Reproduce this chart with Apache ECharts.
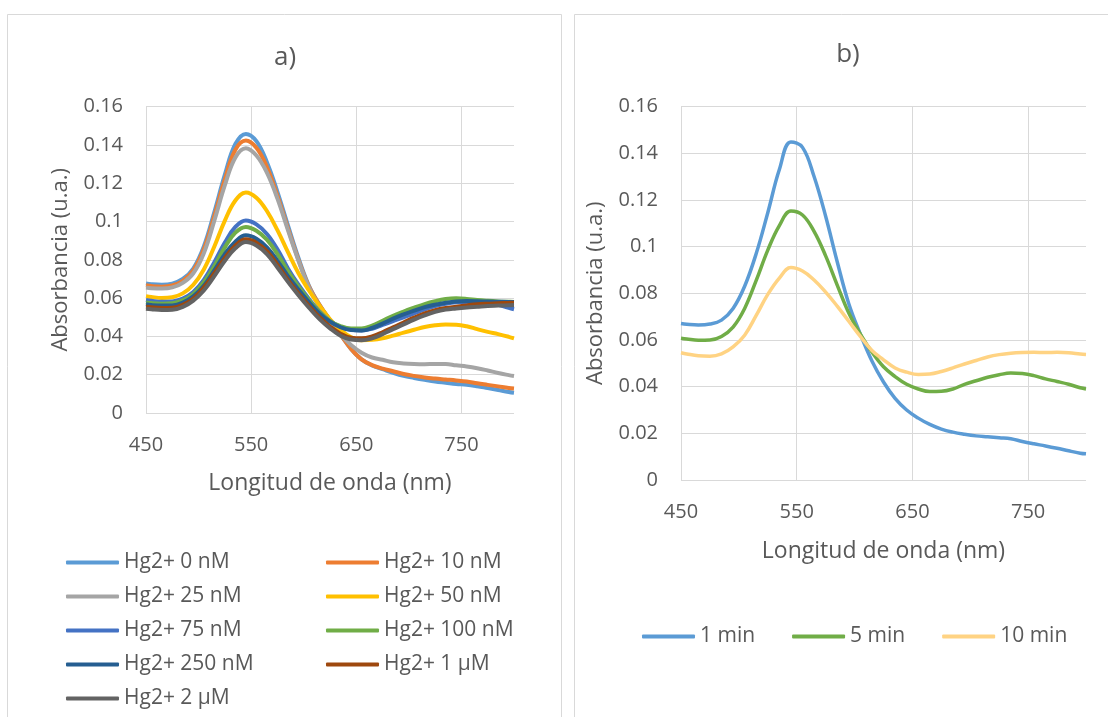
<!DOCTYPE html>
<html><head><meta charset="utf-8">
<script src="https://cdn.jsdelivr.net/npm/echarts@6/dist/echarts.min.js"></script>
<style>html,body{margin:0;padding:0;background:#fff}#c{width:1108px;height:717px}</style>
</head><body><div id="c"></div>
<script>
// wavelengths (nm)
const wavelengths = [450,455,465,475,485,495,505,515,525,535,545,555,565,575,585,595,605,615,625,635,645,655,665,675,685,695,705,715,725,735,745,755,765,775,785,795,800];
const xTicks = [450,550,650,750];
const yTicks = [0,0.02,0.04,0.06,0.08,0.1,0.12,0.14,0.16];

// Panel a) series
const namesA = ['Hg2+ 0 nM','Hg2+ 10 nM','Hg2+ 25 nM','Hg2+ 50 nM','Hg2+ 75 nM','Hg2+ 100 nM','Hg2+ 250 nM','Hg2+ 1 µM','Hg2+ 2 µM'];
const hg0   = [0.0677,0.0673,0.067,0.0676,0.070,0.0755,0.087,0.105,0.1245,0.1405,0.1458,0.142,0.131,0.1155,0.098,0.081,0.0665,0.0565,0.0485,0.041,0.0335,0.028,0.0248,0.0229,0.021,0.0194,0.0183,0.0173,0.0164,0.0158,0.0152,0.0148,0.014,0.013,0.012,0.011,0.0106];
const hg10  = [0.0667,0.0663,0.066,0.0666,0.069,0.0745,0.0855,0.103,0.122,0.1375,0.1423,0.1385,0.1285,0.1135,0.0965,0.080,0.066,0.0565,0.0485,0.041,0.0335,0.028,0.025,0.0232,0.0218,0.0204,0.0194,0.0186,0.018,0.0175,0.017,0.0164,0.0155,0.0147,0.0139,0.0131,0.0128];
const hg25  = [0.0655,0.0652,0.065,0.0656,0.068,0.073,0.0835,0.1005,0.119,0.1335,0.1383,0.1345,0.1255,0.112,0.0955,0.0795,0.0655,0.0555,0.0475,0.041,0.0355,0.0315,0.029,0.0278,0.0265,0.0259,0.0256,0.0255,0.0256,0.0256,0.0249,0.0243,0.0234,0.0222,0.0209,0.0198,0.0193];
const hg50  = [0.061,0.0606,0.0601,0.0605,0.0625,0.067,0.075,0.087,0.1005,0.111,0.1152,0.1125,0.1055,0.0955,0.084,0.073,0.064,0.056,0.049,0.0435,0.0395,0.038,0.0382,0.039,0.0404,0.042,0.0435,0.0449,0.0458,0.0462,0.0461,0.0453,0.0438,0.0424,0.0412,0.0398,0.039];
const hg75  = [0.059,0.0586,0.0581,0.0583,0.0598,0.0632,0.0695,0.0788,0.089,0.0972,0.1005,0.0985,0.0935,0.0855,0.0755,0.067,0.0595,0.053,0.048,0.045,0.0435,0.0431,0.044,0.046,0.048,0.050,0.0521,0.0541,0.0558,0.057,0.0578,0.058,0.0578,0.0573,0.0565,0.0549,0.0542];
const hg100 = [0.0578,0.0574,0.0571,0.0573,0.0588,0.0622,0.0683,0.0768,0.0865,0.0942,0.0972,0.0952,0.0905,0.083,0.074,0.066,0.059,0.0527,0.048,0.0454,0.0442,0.0442,0.0457,0.0482,0.0508,0.053,0.055,0.0569,0.0584,0.0595,0.0599,0.0596,0.059,0.0586,0.0583,0.0581,0.058];
const hg250 = [0.0568,0.0564,0.0561,0.0562,0.0577,0.061,0.0665,0.0745,0.083,0.0895,0.0928,0.091,0.0865,0.0795,0.0715,0.0645,0.058,0.052,0.0477,0.0448,0.0433,0.0431,0.0444,0.0467,0.0493,0.0515,0.0535,0.0553,0.0566,0.0576,0.0583,0.0585,0.0584,0.0582,0.0581,0.058,0.058];
const hg1u  = [0.0555,0.0552,0.0549,0.055,0.0565,0.0598,0.0655,0.073,0.081,0.0875,0.0907,0.089,0.0845,0.0775,0.0695,0.0625,0.056,0.050,0.0452,0.0414,0.0393,0.039,0.040,0.0422,0.0448,0.0473,0.0498,0.052,0.0537,0.0548,0.0555,0.0562,0.0568,0.0571,0.0573,0.0575,0.0576];
const hg2u  = [0.0545,0.0542,0.0538,0.0539,0.0554,0.0587,0.064,0.0715,0.0795,0.086,0.0893,0.0875,0.083,0.076,0.0685,0.0615,0.055,0.049,0.0442,0.0404,0.0384,0.038,0.039,0.0412,0.0438,0.0463,0.0488,0.051,0.0528,0.054,0.0546,0.0551,0.0555,0.0559,0.0561,0.0563,0.0564];

// Panel b) series
const namesB = ['1 min','5 min','10 min'];
const min1  = [0.067,0.0667,0.0664,0.0668,0.0685,0.0735,0.083,0.097,0.1145,0.133,0.1448,0.1425,0.130,0.113,0.0935,0.0755,0.0625,0.051,0.042,0.035,0.030,0.0265,0.0238,0.0218,0.0205,0.0196,0.0189,0.0185,0.0181,0.0177,0.0165,0.0155,0.0146,0.0136,0.0125,0.0115,0.0112];
const min5  = [0.0607,0.0604,0.0599,0.060,0.0615,0.0655,0.0735,0.0855,0.0985,0.109,0.1152,0.1135,0.1065,0.096,0.0835,0.0715,0.0625,0.0548,0.0485,0.0443,0.041,0.039,0.0379,0.038,0.039,0.041,0.0425,0.044,0.0451,0.0458,0.0456,0.0447,0.0433,0.0422,0.041,0.0395,0.039];
const min10 = [0.0545,0.054,0.0532,0.053,0.054,0.057,0.062,0.0705,0.0795,0.0865,0.091,0.0895,0.0857,0.0805,0.0745,0.068,0.0615,0.0555,0.0515,0.048,0.0462,0.0452,0.0454,0.0465,0.048,0.0497,0.0512,0.0527,0.0537,0.0543,0.0546,0.0547,0.0546,0.0547,0.0545,0.054,0.0538];

const colorsA = ['#5B9BD5','#ED7D31','#A5A5A5','#FFC000','#4472C4','#70AD47','#255E91','#9E480E','#636363'];
const colorsB = ['#5B9BD5','#70AD47','#FFD383'];
const dataA = [hg0,hg10,hg25,hg50,hg75,hg100,hg250,hg1u,hg2u];
const dataB = [min1,min5,min10];

const FONT = 'Open Sans';
const TXT = '#595959';
const GRID = '#d9d9d9';

function pairs(arr){ return wavelengths.map((w,i)=>[w,arr[i]]); }
function fmtY(v){ return String(parseFloat(v.toFixed(2))); }

function xAxis(gi, gap){
  return {gridIndex:gi,type:'value',min:450,max:800,interval:100,
    axisLine:{show:false},axisTick:{show:false},
    splitLine:{show:true,showMaxLine:false,lineStyle:{color:GRID,width:1}},
    axisLabel:{showMaxLabel:false,margin:22,fontSize:20,color:TXT,fontFamily:FONT,
      formatter:v=> xTicks.indexOf(v)>=0 ? String(v) : ''},
    name:'Longitud de onda (nm)',nameLocation:'middle',nameGap:gap,
    nameTextStyle:{fontSize:23,color:TXT,fontFamily:FONT}};
}
function yAxis(gi, gap){
  return {gridIndex:gi,type:'value',min:0,max:0.16,interval:0.02,
    axisLine:{show:false},axisTick:{show:false},
    splitLine:{show:true,lineStyle:{color:GRID,width:1}},
    axisLabel:{margin:23,fontSize:20,color:TXT,fontFamily:FONT,formatter:fmtY},
    name:'Absorbancia (u.a.)',nameLocation:'middle',nameGap:gap,
    nameTextStyle:{fontSize:22,color:TXT,fontFamily:FONT}};
}

const series = [];
dataA.forEach((d,i)=>series.push({name:namesA[i],type:'line',xAxisIndex:0,yAxisIndex:0,
  data:pairs(d),symbol:'none',showSymbol:false,smooth:0.4,
  lineStyle:{color:colorsA[i],width:4},itemStyle:{color:colorsA[i]},z:2+i}));
dataB.forEach((d,i)=>series.push({name:namesB[i],type:'line',xAxisIndex:1,yAxisIndex:1,
  data:pairs(d),symbol:'none',showSymbol:false,smooth:0.4,
  lineStyle:{color:colorsB[i],width:3.5},itemStyle:{color:colorsB[i]},z:2+i}));

const legText = {fontSize:21,color:TXT,fontFamily:FONT,lineHeight:20};
const legBase = {padding:0,itemWidth:53,itemHeight:4,icon:'roundRect',textStyle:legText};
const option = {
  backgroundColor:'#fff',
  animation:false,
  graphic:[
    {type:'rect',shape:{x:7.5,y:14.5,width:554,height:720},style:{fill:'none',stroke:GRID,lineWidth:1},z:-10},
    {type:'rect',shape:{x:574.5,y:14.5,width:560,height:720},style:{fill:'none',stroke:GRID,lineWidth:1},z:-10},
    {type:'text',x:285,y:58,style:{text:'a)',fontSize:26,fill:TXT,fontFamily:FONT,textAlign:'center',textVerticalAlign:'middle'}},
    {type:'text',x:848,y:55,style:{text:'b)',fontSize:26,fill:TXT,fontFamily:FONT,textAlign:'center',textVerticalAlign:'middle'}}
  ],
  grid:[
    {left:146,top:106.7,width:368,height:306.3,containLabel:false},
    {left:681,top:106.5,width:405,height:373.5,containLabel:false}
  ],
  xAxis:[xAxis(0,59),xAxis(1,60)],
  yAxis:[yAxis(0,74),yAxis(1,74)],
  legend:[
    Object.assign({data:namesA.filter((n,i)=>i%2===0),orient:'vertical',left:66,top:552,itemGap:13},legBase),
    Object.assign({data:namesA.filter((n,i)=>i%2===1),orient:'vertical',left:326,top:552,itemGap:13},legBase),
    Object.assign({data:namesB,orient:'horizontal',left:642,top:626,itemGap:37},legBase)
  ],
  series:series
};
const chart = echarts.init(document.getElementById('c'),null,{renderer:'canvas'});
chart.setOption(option);
</script>
</body></html>
